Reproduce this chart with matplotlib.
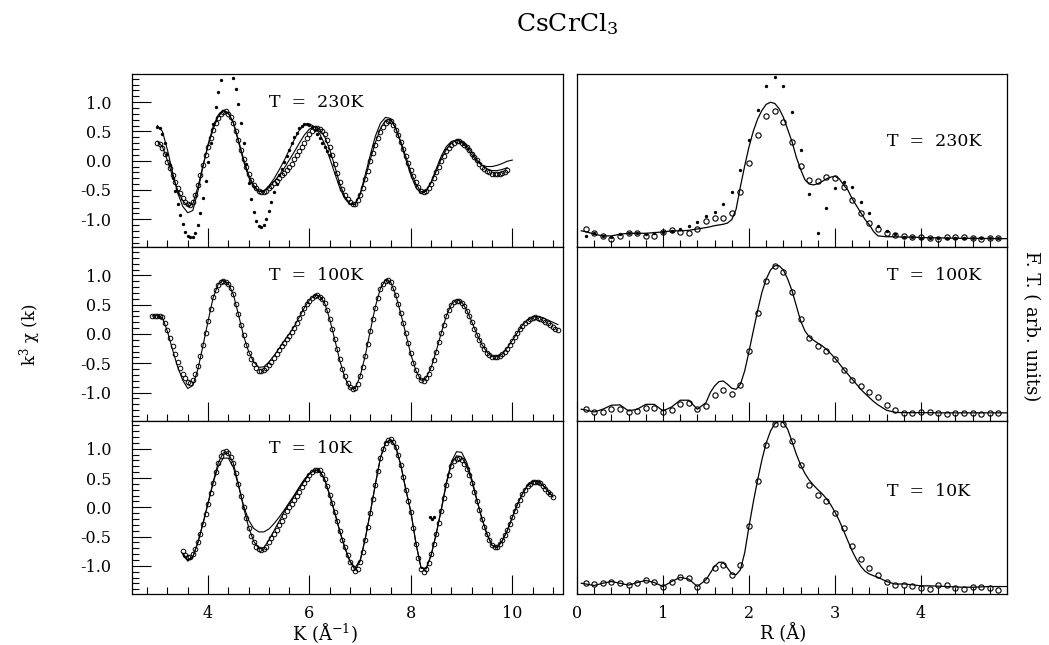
import numpy as np
import matplotlib
matplotlib.use('Agg')
import matplotlib.pyplot as plt
from matplotlib.ticker import MultipleLocator, FormatStrFormatter, NullLocator

plt.rcParams['font.family'] = ['DejaVu Serif']
plt.rcParams['mathtext.fontset'] = 'dejavuserif'

# ---- EXAFS k^3 chi(k) ----
# measured points, step 0.05 in K
k0_230 = 3.0
chi_230_data = [0.31, 0.29, 0.22, 0.11, -0.02, -0.13, -0.25, -0.36, -0.47, -0.56,
                -0.64, -0.70, -0.74, -0.75, -0.70, -0.59, -0.42, -0.25, -0.07, 0.09,
                0.24, 0.39, 0.52, 0.64, 0.73, 0.79, 0.83, 0.84, 0.80, 0.74,
                0.65, 0.51, 0.35, 0.19, 0.03, -0.11, -0.23, -0.33, -0.41, -0.47,
                -0.51, -0.53, -0.54, -0.51, -0.47, -0.43, -0.38, -0.34, -0.30, -0.25,
                -0.21, -0.16, -0.11, -0.05, 0.02, 0.09, 0.16, 0.24, 0.31, 0.38,
                0.45, 0.51, 0.55, 0.56, 0.54, 0.50, 0.45, 0.36, 0.24, 0.10,
                -0.05, -0.21, -0.36, -0.48, -0.58, -0.66, -0.71, -0.74, -0.74, -0.68,
                -0.58, -0.46, -0.32, -0.17, -0.01, 0.13, 0.26, 0.38, 0.49, 0.58,
                0.65, 0.68, 0.67, 0.61, 0.53, 0.43, 0.32, 0.20, 0.08, -0.04,
                -0.16, -0.27, -0.36, -0.45, -0.51, -0.54, -0.52, -0.47, -0.39, -0.30,
                -0.20, -0.10, 0.00, 0.08, 0.16, 0.22, 0.27, 0.31, 0.33, 0.33,
                0.31, 0.27, 0.23, 0.18, 0.12, 0.06, 0.01, -0.05, -0.10, -0.14,
                -0.18, -0.20, -0.22, -0.23, -0.23, -0.22, -0.21, -0.19, -0.16]
# fits, step 0.1 in K
chi_230_fit_a = [0.60, 0.50, 0.18, -0.20, -0.55, -0.78, -0.89, -0.85, -0.52, -0.10,
                 0.28, 0.58, 0.78, 0.86, 0.82, 0.64, 0.32, -0.01, -0.28, -0.45,
                 -0.53, -0.52, -0.43, -0.31, -0.16, 0.00, 0.18, 0.36, 0.52, 0.61,
                 0.63, 0.58, 0.46, 0.28, 0.04, -0.22, -0.47, -0.65, -0.74, -0.74,
                 -0.56, -0.24, 0.10, 0.42, 0.64, 0.74, 0.72, 0.55, 0.30, 0.02,
                 -0.25, -0.46, -0.56, -0.52, -0.36, -0.14, 0.08, 0.24, 0.33, 0.35,
                 0.32, 0.22, 0.10, -0.01, -0.08, -0.10, -0.10, -0.08, -0.05, -0.01, 0.01]
chi_230_fit_b = [0.33, 0.24, 0.00, -0.26, -0.50, -0.68, -0.78, -0.74, -0.45, -0.08,
                 0.25, 0.54, 0.75, 0.85, 0.81, 0.65, 0.35, 0.03, -0.24, -0.42,
                 -0.52, -0.53, -0.46, -0.36, -0.25, -0.13, 0.01, 0.15, 0.30, 0.44,
                 0.54, 0.58, 0.54, 0.41, 0.19, -0.10, -0.40, -0.62, -0.74, -0.75,
                 -0.58, -0.30, 0.02, 0.31, 0.55, 0.69, 0.70, 0.56, 0.33, 0.07,
                 -0.19, -0.40, -0.53, -0.52, -0.38, -0.18, 0.03, 0.19, 0.30, 0.35,
                 0.33, 0.26, 0.15, 0.02, -0.08, -0.14, -0.17, -0.17, -0.15, -0.12]
# dotted curve, step 0.05
chi_230_dots = [0.57, 0.55, 0.45, 0.30, 0.12, -0.08, -0.30, -0.52, -0.74, -0.93,
                -1.09, -1.21, -1.28, -1.31, -1.30, -1.24, -1.10, -0.90, -0.64, -0.34,
                -0.02, 0.30, 0.62, 0.92, 1.18, 1.38, 1.52, 1.59, 1.60, 1.55,
                1.42, 1.22, 0.96, 0.64, 0.30, -0.05, -0.38, -0.66, -0.88, -1.03,
                -1.11, -1.13, -1.10, -1.00, -0.86, -0.70, -0.54, -0.39, -0.25, -0.14,
                -0.03, 0.08, 0.19, 0.30, 0.40, 0.48, 0.55, 0.60, 0.63, 0.63,
                0.61, 0.57, 0.52, 0.45, 0.38, 0.31, 0.24, 0.17, 0.10]

k0_100 = 2.9
chi_100_data = [0.30, 0.30, 0.31, 0.31, 0.29, 0.19, 0.07, -0.07, -0.21, -0.34,
                -0.47, -0.58, -0.68, -0.76, -0.82, -0.84, -0.78, -0.68, -0.55, -0.37,
                -0.18, 0.02, 0.22, 0.43, 0.63, 0.75, 0.84, 0.89, 0.91, 0.89,
                0.85, 0.78, 0.68, 0.52, 0.34, 0.16, -0.02, -0.18, -0.32, -0.43,
                -0.52, -0.58, -0.63, -0.64, -0.62, -0.58, -0.53, -0.47, -0.41, -0.34,
                -0.27, -0.21, -0.15, -0.09, -0.03, 0.03, 0.10, 0.18, 0.27, 0.36,
                0.44, 0.51, 0.57, 0.62, 0.65, 0.66, 0.64, 0.60, 0.53, 0.41,
                0.26, 0.09, -0.08, -0.26, -0.43, -0.59, -0.72, -0.83, -0.90, -0.94,
                -0.92, -0.85, -0.72, -0.56, -0.38, -0.17, 0.05, 0.25, 0.45, 0.62,
                0.77, 0.86, 0.91, 0.92, 0.88, 0.79, 0.67, 0.52, 0.36, 0.19,
                0.02, -0.16, -0.33, -0.49, -0.62, -0.72, -0.79, -0.80, -0.76, -0.68,
                -0.58, -0.45, -0.30, -0.14, 0.01, 0.16, 0.30, 0.41, 0.49, 0.54,
                0.57, 0.57, 0.53, 0.47, 0.39, 0.30, 0.20, 0.09, -0.01, -0.10,
                -0.19, -0.26, -0.32, -0.36, -0.39, -0.40, -0.40, -0.38, -0.35, -0.30,
                -0.25, -0.19, -0.12, -0.05, 0.01, 0.08, 0.14, 0.19, 0.23, 0.26,
                0.28, 0.29, 0.28, 0.26, 0.24, 0.21, 0.18, 0.15, 0.12, 0.09,
                0.07]
chi_100_fit = [0.31,
               0.31, 0.28, 0.04, -0.27, -0.56, -0.79, -0.93, -0.88, -0.60, -0.20,
               0.22, 0.62, 0.85, 0.92, 0.86, 0.67, 0.33, -0.03, -0.30, -0.48,
               -0.57, -0.56, -0.48, -0.37, -0.25, -0.12, 0.00, 0.13, 0.29, 0.45,
               0.58, 0.66, 0.65, 0.53, 0.25, -0.10, -0.46, -0.75, -0.92, -0.93,
               -0.72, -0.37, 0.06, 0.47, 0.78, 0.92, 0.89, 0.67, 0.35, 0.00,
               -0.35, -0.63, -0.79, -0.75, -0.57, -0.29, 0.02, 0.31, 0.51, 0.59,
               0.55, 0.41, 0.21, 0.00, -0.18, -0.31, -0.38, -0.39, -0.34, -0.24,
               -0.11, 0.02, 0.15, 0.24, 0.29, 0.30, 0.28, 0.24, 0.20, 0.16]

k0_10 = 3.5
chi_10_data = [-0.74, -0.82, -0.85, -0.84, -0.80, -0.71, -0.59, -0.45, -0.28, -0.12,
               0.05, 0.24, 0.42, 0.60, 0.75, 0.87, 0.94, 0.96, 0.93, 0.86,
               0.76, 0.59, 0.40, 0.20, 0.00, -0.18, -0.35, -0.49, -0.60, -0.68,
               -0.72, -0.73, -0.72, -0.67, -0.60, -0.53, -0.46, -0.39, -0.31, -0.23,
               -0.14, -0.07, 0.00, 0.06, 0.13, 0.20, 0.27, 0.35, 0.42, 0.49,
               0.55, 0.60, 0.63, 0.64, 0.63, 0.57, 0.48, 0.36, 0.21, 0.07,
               -0.08, -0.24, -0.40, -0.55, -0.68, -0.81, -0.93, -1.03, -1.09, -1.05,
               -0.93, -0.76, -0.55, -0.33, -0.10, 0.14, 0.38, 0.62, 0.85, 1.00,
               1.10, 1.15, 1.16, 1.12, 1.03, 0.89, 0.72, 0.52, 0.30, 0.10,
               -0.08, -0.36, -0.62, -0.86, -1.05, -1.10, -1.06, -0.95, -0.80, -0.63,
               -0.45, -0.26, -0.07, 0.16, 0.38, 0.56, 0.70, 0.79, 0.83, 0.84,
               0.80, 0.74, 0.65, 0.55, 0.42, 0.27, 0.10, -0.05, -0.20, -0.33,
               -0.45, -0.56, -0.64, -0.68, -0.67, -0.62, -0.56, -0.48, -0.39, -0.28,
               -0.17, -0.06, 0.04, 0.13, 0.22, 0.30, 0.36, 0.40, 0.43, 0.44,
               0.43, 0.41, 0.37, 0.32, 0.27, 0.22, 0.17]
chi_10_fit_a = [-0.80, -0.92, -0.85, -0.60, -0.27,
                0.08, 0.42, 0.70, 0.84, 0.84, 0.68, 0.37, 0.03, -0.22, -0.36,
                -0.42, -0.42, -0.37, -0.28, -0.17, -0.05, 0.08, 0.21, 0.35, 0.48,
                0.58, 0.63, 0.62, 0.47, 0.20, -0.10, -0.42, -0.70, -0.92, -1.03,
                -0.90, -0.53, -0.08, 0.40, 0.85, 1.10, 1.16, 1.04, 0.73, 0.31,
                -0.08, -0.61, -1.03, -1.05, -0.82, -0.45, -0.02, 0.43, 0.78, 0.95,
                0.94, 0.77, 0.49, 0.14, -0.19, -0.46, -0.65, -0.69, -0.58, -0.40,
                -0.17, 0.05, 0.23, 0.37, 0.44, 0.44, 0.38, 0.28, 0.18]
chi_10_fit_b = [-0.78, -0.90, -0.84, -0.60, -0.28,
                0.06, 0.43, 0.76, 0.93, 0.92, 0.75, 0.39, 0.00, -0.34, -0.58,
                -0.70, -0.69, -0.56, -0.40, -0.24, -0.08, 0.06, 0.19, 0.32, 0.45,
                0.57, 0.64, 0.63, 0.48, 0.21, -0.09, -0.41, -0.69, -0.93, -1.07,
                -0.92, -0.54, -0.09, 0.39, 0.85, 1.10, 1.16, 1.03, 0.72, 0.30,
                -0.08, -0.62, -1.04, -1.05, -0.81, -0.45, -0.05, 0.40, 0.74, 0.88,
                0.86, 0.70, 0.45, 0.12, -0.19, -0.45, -0.65, -0.68, -0.57, -0.40,
                -0.17, 0.05, 0.23, 0.37, 0.44, 0.44, 0.38, 0.28, 0.18]
stray_k = [8.38, 8.42, 8.45]
stray_chi = [-0.16, -0.20, -0.17]

# ---- Fourier transforms (arb. units), points at R = 0.1 ... 4.9 ----
r0_pts = 0.1
ft_230_data = [0.108, 0.081, 0.063, 0.047, 0.066, 0.081, 0.081, 0.066, 0.066, 0.089,
               0.098, 0.089, 0.081, 0.108, 0.151, 0.170, 0.170, 0.199, 0.322, 0.489,
               0.650, 0.758, 0.786, 0.725, 0.610, 0.470, 0.388, 0.383, 0.407, 0.400,
               0.350, 0.275, 0.199, 0.138, 0.108, 0.085, 0.070, 0.066, 0.061, 0.061,
               0.053, 0.047, 0.057, 0.057, 0.057, 0.051, 0.047, 0.053, 0.053]
ft_230_dots = [0.066, 0.081, 0.066, 0.057, 0.076, 0.085, 0.081, 0.076, 0.080, 0.091,
               0.095, 0.104, 0.123, 0.148, 0.180, 0.205, 0.250, 0.322, 0.445, 0.621,
               0.795, 0.928, 0.981, 0.928, 0.780, 0.559, 0.307, 0.081, 0.227, 0.341,
               0.379, 0.350, 0.259, 0.199, 0.123, 0.095, 0.076, 0.060, 0.058, 0.055,
               0.053, 0.055, 0.052, 0.055, 0.053, 0.055, 0.052, 0.053, 0.052]
ft_100_data = [0.066, 0.050, 0.052, 0.069, 0.069, 0.050, 0.056, 0.075, 0.075, 0.052,
               0.060, 0.094, 0.100, 0.066, 0.085, 0.148, 0.175, 0.152, 0.206, 0.400,
               0.624, 0.807, 0.890, 0.860, 0.740, 0.586, 0.476, 0.430, 0.403, 0.358,
               0.291, 0.235, 0.200, 0.168, 0.137, 0.089, 0.060, 0.046, 0.046, 0.050,
               0.050, 0.046, 0.040, 0.042, 0.046, 0.042, 0.037, 0.042, 0.046]
ft_10_data = [0.062, 0.057, 0.062, 0.068, 0.062, 0.053, 0.066, 0.078, 0.068, 0.043,
              0.072, 0.097, 0.095, 0.043, 0.082, 0.150, 0.166, 0.111, 0.166, 0.390,
              0.651, 0.861, 0.980, 0.980, 0.885, 0.745, 0.628, 0.569, 0.534, 0.466,
              0.378, 0.277, 0.203, 0.150, 0.107, 0.072, 0.049, 0.049, 0.047, 0.033,
              0.029, 0.049, 0.049, 0.033, 0.029, 0.043, 0.043, 0.033, 0.023]

r_line = [0.05, 0.1, 0.2, 0.3, 0.4, 0.5, 0.6, 0.7, 0.8, 0.9, 1.0, 1.1, 1.2, 1.3, 1.4, 1.5,
          1.55, 1.6, 1.65, 1.7, 1.75, 1.8, 1.85, 1.9, 1.95, 2.0, 2.05, 2.1, 2.15, 2.2,
          2.25, 2.3, 2.35, 2.4, 2.45, 2.5, 2.55, 2.6, 2.65, 2.7, 2.75, 2.8, 2.85, 2.9,
          2.95, 3.0, 3.05, 3.1, 3.15, 3.2, 3.25, 3.3, 3.35, 3.4, 3.45, 3.5,
          3.6, 3.7, 3.8, 3.9, 4.0, 4.1, 4.2, 4.3, 4.4, 4.5, 4.6, 4.7, 4.8, 4.9, 5.0]
ft_230_fit = [0.095, 0.091, 0.076, 0.066, 0.066, 0.076, 0.081, 0.081, 0.081, 0.085,
              0.089, 0.095, 0.095, 0.098, 0.106, 0.114,
              0.119, 0.125, 0.129, 0.133, 0.140, 0.160, 0.220, 0.350, 0.470, 0.580,
              0.670, 0.740, 0.790, 0.825, 0.837, 0.830, 0.800, 0.750, 0.680, 0.610,
              0.520, 0.450, 0.390, 0.365, 0.360, 0.367, 0.380, 0.395, 0.405, 0.410,
              0.395, 0.360, 0.330, 0.280, 0.240, 0.200, 0.160, 0.130, 0.090, 0.066,
              0.061, 0.061, 0.059, 0.059, 0.057, 0.055, 0.055, 0.053, 0.053, 0.052,
              0.052, 0.051, 0.051, 0.050, 0.050]
ft_100_fit = [0.066, 0.062, 0.050, 0.066, 0.089, 0.091, 0.056, 0.066, 0.094, 0.094,
              0.056, 0.079, 0.118, 0.118, 0.066, 0.104,
              0.162, 0.200, 0.225, 0.229, 0.210, 0.187, 0.181, 0.210, 0.287, 0.399,
              0.518, 0.634, 0.740, 0.817, 0.869, 0.894, 0.894, 0.869, 0.817, 0.750,
              0.663, 0.576, 0.518, 0.484, 0.464, 0.447, 0.432, 0.412, 0.387, 0.360,
              0.329, 0.297, 0.268, 0.239, 0.210, 0.181, 0.156, 0.133, 0.110, 0.091,
              0.060, 0.048, 0.046, 0.046, 0.046, 0.046, 0.045, 0.045, 0.045, 0.045,
              0.045, 0.045, 0.045, 0.045, 0.045]
ft_10_fit = [0.062, 0.058, 0.049, 0.062, 0.072, 0.062, 0.051, 0.066, 0.078, 0.066,
             0.043, 0.072, 0.096, 0.086, 0.043, 0.082,
             0.121, 0.160, 0.183, 0.183, 0.150, 0.115, 0.111, 0.140, 0.238, 0.390,
             0.530, 0.657, 0.774, 0.871, 0.940, 0.982, 0.998, 0.988, 0.950, 0.880,
             0.807, 0.745, 0.696, 0.657, 0.628, 0.602, 0.579, 0.550, 0.515, 0.472,
             0.423, 0.365, 0.306, 0.248, 0.199, 0.160, 0.131, 0.115, 0.105, 0.096,
             0.072, 0.057, 0.058, 0.053, 0.047, 0.047, 0.045, 0.043, 0.041, 0.039,
             0.039, 0.041, 0.043, 0.043, 0.043]

temps = ['230K', '100K', '10K']
ft_label_pos = [(0.722, 0.61), (0.722, 0.84), (0.722, 0.59)]


def kgrid(k0, vals, step=0.1):
    return k0 + step * np.arange(len(vals))


W, H = 1049, 645
fig = plt.figure(figsize=(W / 100, H / 100), dpi=100)


def px_axes(x0, y0, x1, y1):
    return fig.add_axes([x0 / W, 1 - y1 / H, (x1 - x0) / W, (y1 - y0) / H])


top, ph = 74, 173.33
circ = dict(ls='none', marker='o', mfc='none', mec='black', color='black')
line = dict(color='black', lw=0.8)
ms_k = 3.3

for i, t in enumerate(temps):
    y0 = top + i * ph
    axl = px_axes(132, y0, 563, y0 + ph)
    axr = px_axes(577, y0, 1007, y0 + ph)

    # left: k^3 chi(k)
    if t == '230K':
        axl.plot(kgrid(k0_230, chi_230_data, 0.05), chi_230_data, ms=ms_k, mew=0.7, **circ)
        axl.plot(kgrid(k0_230, chi_230_dots, 0.05), chi_230_dots, 'o', color='black', ms=1.4)
        axl.plot(kgrid(k0_230, chi_230_fit_a), chi_230_fit_a, **line)
        axl.plot(kgrid(k0_230, chi_230_fit_b), chi_230_fit_b, **line)
    elif t == '100K':
        axl.plot(kgrid(k0_100, chi_100_data, 0.05), chi_100_data, ms=ms_k, mew=0.7, **circ)
        axl.plot(kgrid(k0_100, chi_100_fit), chi_100_fit, **line)
    else:
        axl.plot(kgrid(k0_10, chi_10_data, 0.05), chi_10_data, ms=ms_k, mew=0.7, **circ)
        axl.plot(kgrid(k0_10, chi_10_fit_a), chi_10_fit_a, **line)
        axl.plot(kgrid(k0_10, chi_10_fit_b), chi_10_fit_b, **line)
        axl.plot(stray_k, stray_chi, 'o', color='black', ms=1.4)

    axl.set_xlim(2.5, 11.0)
    axl.set_ylim(-1.48, 1.48)
    axl.xaxis.set_major_locator(MultipleLocator(2))
    axl.xaxis.set_minor_locator(MultipleLocator(0.4))
    axl.yaxis.set_major_locator(MultipleLocator(0.5))
    axl.yaxis.set_minor_locator(MultipleLocator(0.1))
    axl.yaxis.set_major_formatter(FormatStrFormatter('%.1f'))
    axl.tick_params(which='both', direction='in', top=False, right=False, width=0.8)
    axl.tick_params(which='major', length=14, labelsize=11.5)
    axl.tick_params(which='minor', length=5)
    axl.tick_params(axis='y', which='major', pad=15)
    axl.tick_params(axis='x', which='major', pad=8)
    axl.text(5.2, 1.0, 'T  =  ' + t, fontsize=12.5, ha='left', va='center')

    # right: Fourier transform
    r_pts = kgrid(r0_pts, ft_10_data)
    if t == '230K':
        axr.plot(r_pts, ft_230_data, ms=3.8, mew=0.8, **circ)
        axr.plot(r_pts, ft_230_dots, 'o', color='black', ms=1.4)
        axr.plot(r_line, ft_230_fit, color='black', lw=0.9)
    elif t == '100K':
        axr.plot(r_pts, ft_100_data, ms=3.8, mew=0.8, **circ)
        axr.plot(r_line, ft_100_fit, color='black', lw=0.9)
    else:
        axr.plot(r_pts, ft_10_data, ms=3.8, mew=0.8, **circ)
        axr.plot(r_line, ft_10_fit, color='black', lw=0.9)

    axr.set_xlim(0, 5.0)
    axr.set_ylim(0, 1.0)
    axr.set_xticks([0, 1, 2, 3, 4])
    axr.xaxis.set_minor_locator(MultipleLocator(0.2))
    axr.yaxis.set_major_locator(NullLocator())
    axr.tick_params(which='both', direction='in', top=False, right=False, width=0.8)
    axr.tick_params(which='major', length=14, labelsize=11.5, pad=8)
    axr.tick_params(which='minor', length=5)
    lx, ly = ft_label_pos[i]
    axr.text(lx, ly, 'T  =  ' + t, fontsize=12.5, ha='left', va='center', transform=axr.transAxes)

    for ax in (axl, axr):
        for s in ax.spines.values():
            s.set_linewidth(0.9)
        if i < 2:
            ax.tick_params(labelbottom=False)

fig.text(567 / W, 1 - 24 / H, 'CsCrCl$_3$', fontsize=18, ha='center', va='center')
fig.text(325 / W, 1 - 633 / H, 'K (Å$^{-1}$)', fontsize=13, ha='center', va='center')
fig.text(783 / W, 1 - 633 / H, 'R (Å)', fontsize=13, ha='center', va='center')
fig.text(30 / W, 1 - 335 / H, 'k$^3$ χ (k)', fontsize=12, ha='center', va='center', rotation=90)
fig.text(1031 / W, 1 - 326 / H, 'F. T. ( arb. units)', fontsize=13, ha='center', va='center',
         rotation=270)

fig.savefig('out.png', dpi=100)
